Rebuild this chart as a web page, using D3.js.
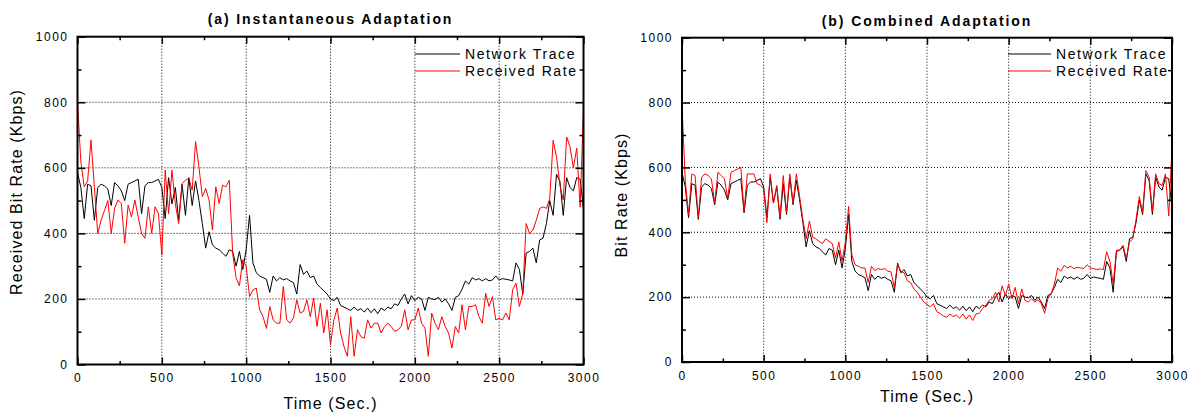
<!DOCTYPE html>
<html><head><meta charset="utf-8">
<script src="https://cdn.jsdelivr.net/npm/d3@7"></script>
<style>
body{margin:0;background:#fff;}
svg{display:block;font-family:"Liberation Sans",Arial,sans-serif;}
</style></head><body>
<svg id="chart" width="1192" height="413"></svg>
<script>
// sampling times (seconds), one sample every 20 s
const times = d3.range(0, 3001, 20);

const networkTrace = [
 585,540,445,550,545,440,540,550,545,535,
 485,555,545,530,500,550,555,560,565,460,
 545,555,555,560,565,540,445,570,490,540,
 440,550,455,570,485,560,500,430,355,405,
 365,355,350,340,330,350,345,300,345,290,
 350,455,310,280,270,265,260,220,270,255,
 265,258,262,255,250,215,305,275,285,265,
 270,245,235,225,215,200,195,205,180,175,
 170,165,175,165,170,160,172,158,170,155,
 172,165,175,170,185,180,200,215,185,210,
 195,205,200,165,205,200,198,205,190,200,
 185,165,205,210,230,255,245,265,258,262,
 255,262,255,258,270,258,262,260,258,255,
 310,290,215,340,345,355,310,380,385,430,
 500,455,580,560,455,570,540,530,570,565,
 475];

const receivedInstantaneous = [
 800,618,542,560,685,542,400,440,470,500,
 400,476,502,491,370,486,450,502,450,400,
 385,481,400,481,460,334,593,460,593,490,
 430,552,562,568,532,680,603,512,537,502,
 410,542,491,547,542,562,339,265,240,320,
 300,207,227,233,167,146,110,177,136,126,
 126,238,136,126,141,197,157,162,197,146,
 202,116,187,96,167,60,136,172,96,55,
 25,146,25,106,85,80,136,111,126,126,
 96,116,126,116,101,106,116,167,106,136,
 136,172,126,111,25,157,126,106,146,116,
 96,50,116,96,182,106,177,177,182,146,
 126,217,177,207,136,141,136,157,136,228,
 248,177,217,430,400,410,440,476,481,476,
 507,684,633,547,502,694,664,600,660,480,
 780];

const receivedCombined = [
 790,560,455,580,575,445,570,580,575,565,
 490,585,575,565,505,585,590,595,600,465,
 580,580,580,550,545,535,430,580,490,545,
 445,575,460,580,490,580,510,440,380,435,
 385,380,372,365,380,372,365,320,370,310,
 370,480,330,300,295,290,290,245,295,282,
 288,285,288,280,278,230,300,280,275,250,
 245,225,215,200,185,178,170,180,155,150,
 142,138,148,140,145,135,148,132,145,128,
 148,150,165,175,190,195,215,185,235,205,
 240,195,230,180,225,190,185,195,185,192,
 180,150,195,210,240,290,280,298,290,295,
 288,292,290,288,300,290,288,285,287,285,
 340,310,240,345,345,360,320,370,380,440,
 510,460,590,570,465,580,550,545,580,450,
 660];

const yTicks = [0, 200, 400, 600, 800, 1000];
const yMinorTicks = [100, 300, 500, 700, 900];
const xTicks = [0, 500, 1000, 1500, 2000, 2500, 3000];
const xMinorTicks = [250, 750, 1250, 1750, 2250, 2750];
const gridY = [200, 400, 600, 800];
const gridX = [500, 1000, 1500, 2000, 2500];
const seriesNames = ["Network Trace", "Received Rate"];
const seriesColors = ["#000000", "#ff0000"];
const xLabel = "Time (Sec.)";

const panels = [
  {title: "(a) Instantaneous Adaptation", ylabel: "Received Bit Rate (Kbps)", received: receivedInstantaneous,
   left: 77.5, right: 583.5, top: 36.7, bottom: 364.5, titleY: 24, xlabY: 409, ylabX: 22, ylabY: 192,
   legLine: [415, 460], legText: 465},
  {title: "(b) Combined Adaptation", ylabel: "Bit Rate (Kbps)", received: receivedCombined,
   left: 682, right: 1172, top: 37.7, bottom: 362, titleY: 25.5, xlabY: 402, ylabX: 627, ylabY: 195,
   legLine: [1008, 1051], legText: 1056}
];

const svg = d3.select("#chart");
const fmt = d3.format("d");

panels.forEach(p => {
  const x = d3.scaleLinear().domain([0, 3000]).range([p.left, p.right]);
  const y = d3.scaleLinear().domain([0, 1000]).range([p.bottom, p.top]);
  const g = svg.append("g");

  // grid
  g.selectAll(".gy").data(gridY).join("line")
    .attr("x1", p.left).attr("x2", p.right)
    .attr("y1", d => y(d)).attr("y2", d => y(d))
    .attr("stroke", "#000").attr("stroke-width", 1).attr("stroke-dasharray", "1,2");
  g.selectAll(".gx").data(gridX).join("line")
    .attr("y1", p.top).attr("y2", p.bottom)
    .attr("x1", d => x(d)).attr("x2", d => x(d))
    .attr("stroke", "#000").attr("stroke-width", 1).attr("stroke-dasharray", "1,2");

  // data lines
  const lineGen = d3.line().x((d, i) => x(times[i])).y(d => y(d));
  [networkTrace, p.received].forEach((vals, k) => {
    g.append("path").attr("d", lineGen(vals))
      .attr("fill", "none").attr("stroke", seriesColors[k]).attr("stroke-width", 1)
      .attr("stroke-linejoin", "miter");
  });

  // axes (ticks inward on all four sides)
  const styleAxis = sel => {
    sel.select(".domain").remove();
    sel.selectAll("line").attr("stroke", "#000").attr("stroke-width", 1.5);
    sel.selectAll("text").attr("font-family", "'Liberation Sans', Arial, sans-serif")
      .attr("font-size", 12).attr("letter-spacing", 1.5).attr("fill", "#000");
  };
  g.append("g").attr("transform", `translate(${p.left},0)`)
    .call(d3.axisLeft(y).tickValues(yTicks).tickFormat(fmt).tickSizeInner(-8).tickSizeOuter(0).tickPadding(9))
    .call(styleAxis);
  g.append("g").attr("transform", `translate(${p.left},0)`)
    .call(d3.axisLeft(y).tickValues(yMinorTicks).tickSizeInner(-4).tickSizeOuter(0).tickFormat(""))
    .call(styleAxis);
  g.append("g").attr("transform", `translate(${p.right},0)`)
    .call(d3.axisRight(y).tickValues(yTicks).tickSizeInner(-8).tickSizeOuter(0).tickFormat(""))
    .call(styleAxis);
  g.append("g").attr("transform", `translate(${p.right},0)`)
    .call(d3.axisRight(y).tickValues(yMinorTicks).tickSizeInner(-4).tickSizeOuter(0).tickFormat(""))
    .call(styleAxis);
  g.append("g").attr("transform", `translate(0,${p.bottom})`)
    .call(d3.axisBottom(x).tickValues(xTicks).tickFormat(fmt).tickSizeInner(-7).tickSizeOuter(0).tickPadding(9))
    .call(styleAxis);
  g.append("g").attr("transform", `translate(0,${p.bottom})`)
    .call(d3.axisBottom(x).tickValues(xMinorTicks).tickSizeInner(-3.5).tickSizeOuter(0).tickFormat(""))
    .call(styleAxis);
  g.append("g").attr("transform", `translate(0,${p.top})`)
    .call(d3.axisTop(x).tickValues(xTicks).tickSizeInner(-7).tickSizeOuter(0).tickFormat(""))
    .call(styleAxis);
  g.append("g").attr("transform", `translate(0,${p.top})`)
    .call(d3.axisTop(x).tickValues(xMinorTicks).tickSizeInner(-3.5).tickSizeOuter(0).tickFormat(""))
    .call(styleAxis);

  // frame
  g.append("rect").attr("x", p.left).attr("y", p.top)
    .attr("width", p.right - p.left).attr("height", p.bottom - p.top)
    .attr("fill", "none").attr("stroke", "#000").attr("stroke-width", 2);

  // title
  g.append("text").attr("x", (p.left + p.right) / 2).attr("y", p.titleY)
    .attr("text-anchor", "middle").attr("font-size", 14).attr("font-weight", "bold")
    .attr("letter-spacing", 1.9).text(p.title);

  // axis titles
  g.append("text").attr("x", (p.left + p.right) / 2).attr("y", p.xlabY)
    .attr("text-anchor", "middle").attr("font-size", 16).attr("letter-spacing", 1.1).text(xLabel);
  g.append("text").attr("transform", `translate(${p.ylabX},${p.ylabY}) rotate(-90)`)
    .attr("text-anchor", "middle").attr("font-size", 16).attr("letter-spacing", 1.1).text(p.ylabel);

  // legend
  seriesNames.forEach((name, k) => {
    const ly = 54 + k * 17;
    g.append("line").attr("x1", p.legLine[0]).attr("x2", p.legLine[1])
      .attr("y1", ly).attr("y2", ly).attr("stroke", seriesColors[k]).attr("stroke-width", 1);
    g.append("text").attr("x", p.legText).attr("y", ly + 5)
      .attr("font-size", 14).attr("letter-spacing", 1.6).text(name);
  });
});
</script>
</body></html>
